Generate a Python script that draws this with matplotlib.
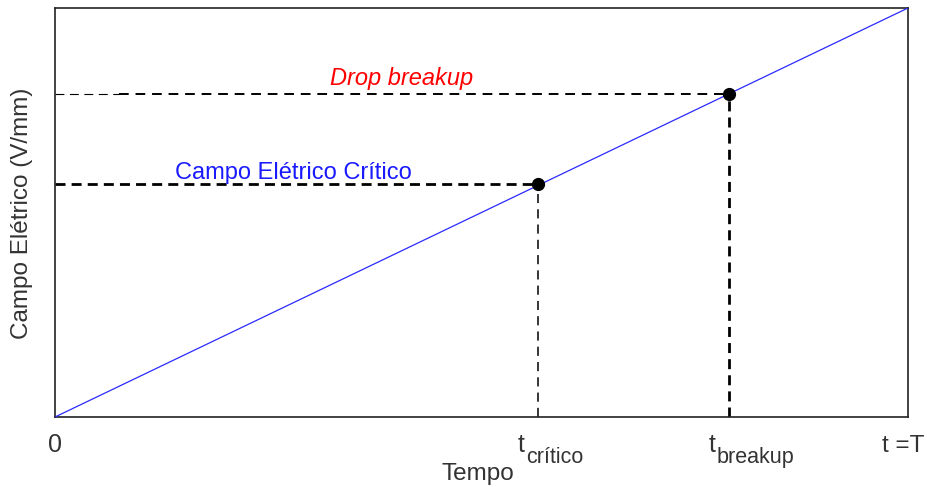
import matplotlib.pyplot as plt
import matplotlib.transforms as mtransforms

plt.rcParams['font.family'] = ['Liberation Sans', 'DejaVu Sans']

# ramp of the electric field over time (normalised)
tempo = [0.0, 1.0]
campo = [0.0, 1.0]

# characteristic instants / fields
t_critico = 0.566
e_critico = 0.570
t_breakup = 0.790
e_breakup = 0.790

tick_pos = [0.0, t_critico, t_breakup, 1.0]
tick_main = ["0", "t", "t", "t =T"]
tick_sub = ["", "crítico", "breakup", ""]

fig = plt.figure(figsize=(9.27, 4.87), dpi=100)
ax = fig.add_axes([55 / 927, 1 - 417 / 487, 853 / 927, 409 / 487])

ax.plot(tempo, campo, color="#2a2aff", lw=0.9, zorder=3)

# critical field guides
ax.plot([0, t_critico], [e_critico, e_critico], color="k", lw=2, ls=(0, (3.6, 2.2)))
ax.plot([t_critico, t_critico], [0, e_critico], color="k", lw=1.1, ls=(0, (6, 4)))
# breakup guides
ax.plot([0, 0.075], [e_breakup, e_breakup], color="k", lw=0.8, ls=(0, (8, 5)))
ax.plot([0.075, t_breakup], [e_breakup, e_breakup], color="k", lw=1.4, ls=(0, (5, 3.5)))
ax.plot([t_breakup, t_breakup], [0, e_breakup], color="k", lw=2, ls=(0, (3.6, 2.2)))

ax.plot([t_critico, t_breakup], [e_critico, e_breakup], "o", color="k", ms=8.5, zorder=4)

ax.text(0.4065, 0.812, "Drop breakup", color="red", style="italic", fontsize=17,
        ha="center", va="baseline")
ax.text(0.279, 0.582, "Campo Elétrico Crítico", color="#1a1aff", fontsize=17,
        ha="center", va="baseline")

ax.set_xlim(0, 1)
ax.set_ylim(0, 1)
ax.set_xticks([])
ax.set_yticks([])
for s in ax.spines.values():
    s.set_color("#222222")
    s.set_linewidth(1.2)

# tick labels with large subscripts
trans = mtransforms.blended_transform_factory(ax.transData, ax.transAxes)
y_base = -(452 - 417) / 409
for x, m, sub in zip(tick_pos, tick_main, tick_sub):
    if sub:
        ax.text(x - 0.024, y_base, m, transform=trans, fontsize=18,
                color="#333333", ha="left", va="baseline")
        ax.annotate(sub, xy=(x - 0.024, y_base), xycoords=trans,
                    xytext=(6, -8), textcoords="offset points",
                    fontsize=15.5, color="#333333", ha="left", va="baseline")
    elif x >= 1.0:
        ax.text(x + 0.019, y_base, m, transform=trans, fontsize=17.5,
                color="#333333", ha="right", va="baseline")
    else:
        ax.text(x, y_base, m, transform=trans, fontsize=18, color="#333333",
                ha="center", va="baseline")

fig.text(478 / 927, 1 - 474 / 487, "Tempo", fontsize=17.5, color="#333333",
         ha="center", va="center")
fig.text(22 / 927, 1 - 213 / 487, "Campo Elétrico (V/mm)", fontsize=17.5,
         color="#333333", ha="center", va="center", rotation=90)

fig.savefig("out.png", dpi=100)
